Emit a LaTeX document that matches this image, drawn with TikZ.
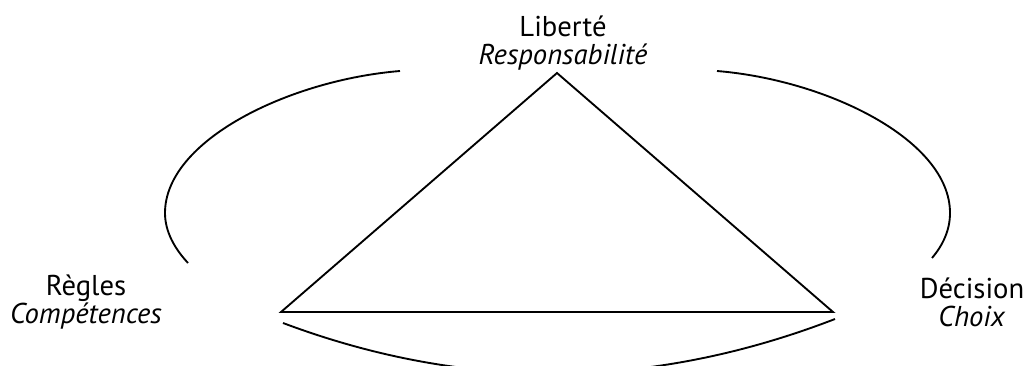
\documentclass[tikz,border=0pt]{standalone}
\usepackage{fontspec}
\setmainfont{PT Sans}

\begin{document}
\begin{tikzpicture}[
    x=0.75pt, y=-0.75pt,
    every node/.style={align=center, inner sep=0pt, font=\fontsize{21.5}{21}\selectfont},
    side/.style={line width=1.4pt, line join=miter},
    ring/.style={line width=1.4pt}
]
\useasboundingbox (0,0) rectangle (1027,365);
\clip (0,0) rectangle (1027,365);

% corners of the triangle
\coordinate (top) at (557,73);
\coordinate (left) at (281,312);
\coordinate (right) at (833,312);

\node (liberte) at (563,43) {Liberté\\\textit{Responsabilité}};
\node (regles) at (86,302) {Règles\\\textit{Compétences}};
\node (decision) at (972,302) {Décision\\\textit{Choix}};

% ends of the three arcs
\coordinate (la) at (400,71);
\coordinate (lb) at (188,263);
\coordinate (ra) at (717,71);
\coordinate (rb) at (932,258);
\coordinate (ba) at (283,323);
\coordinate (bb) at (835,319);

\draw[side] (top) -- (right) -- (left) -- cycle;

\draw[ring] (la) .. controls (290,80) and (165,140) .. (165,213)
    .. controls (165,232) and (175,249) .. (lb);
\draw[ring] (ra) .. controls (827,80) and (950,140) .. (950,213)
    .. controls (950,230) and (943,245) .. (rb);
\draw[ring] (ba) .. controls (467,392) and (651,390) .. (bb);
\end{tikzpicture}
\end{document}
